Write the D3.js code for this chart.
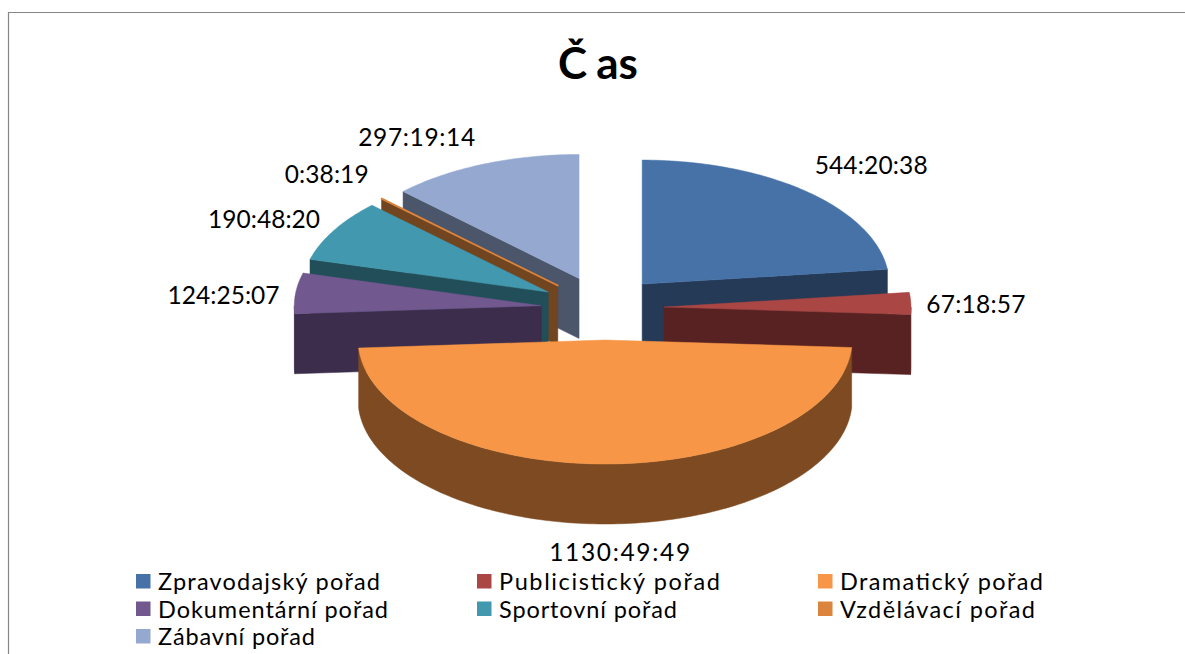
<!DOCTYPE html>
<html lang="cs">
<head>
<meta charset="utf-8">
<script src="https://cdn.jsdelivr.net/npm/d3@7"></script>
<style>
html,body{margin:0;padding:0;background:#fff;}
svg{display:block;}
text{font-family:Lato,"Open Sans",sans-serif;fill:#000;}
</style>
</head>
<body>
<div id="chart"></div>
<script>
const categories = ["Zpravodajský pořad","Publicistický pořad","Dramatický pořad","Dokumentární pořad","Sportovní pořad","Vzdělávací pořad","Zábavní pořad"];
const durationLabels = ["544:20:38","67:18:57","1130:49:49","124:25:07","190:48:20","0:38:19","297:19:14"];
const hoursValues = [544.344,67.316,1130.830,124.419,190.806,0.639,297.321];
const topColors = ["#4672A8","#AA4644","#F79646","#71588F","#4198AF","#DB843D","#95A8D0"];
const wallColors = ["#243A56","#572221","#7D4A21","#3B2D4B","#224E5A","#70451F","#4C566B"];
const drawOrder = [6,5,4,3,0,1,2];
const legendWidths = [222,221,203,230,178,195,157];
const labelWidths = [113,99,141,112,112,84,117];
const labelOffsets = [[65,-25],[65,2],[14,29],[-72,3],[-70,-10],[-55,-24],[-67,-26]];
const nudgeX = [-1,0,3,1,0,0,1];
const nudgeY = [0,0,0,1,0,0,0];

const W = 1185, H = 654;
const svg = d3.select("#chart").append("svg").attr("width",W).attr("height",H);

// frame
svg.append("path").attr("d","M8.5,654V12.5H1185")
  .attr("fill","none").attr("stroke","#868686").attr("stroke-width",1.2);

// title
svg.append("text").attr("x",598).attr("y",79).attr("text-anchor","middle")
  .attr("font-size",44).attr("font-weight",700)
  .attr("dx","0 9 0").text("Čas");

// pie geometry
const cx = 602, cy = 308, rx = 247, ry = 124, depth = 60, explodeX = 62, explodeY = 32;
const arcs = d3.pie().sort(null).value(d=>d)(hoursValues);
const pts = arcs.map((a,i)=>{
  const m = (a.startAngle+a.endAngle)/2;
  return {i, a, x: cx + explodeX*Math.sin(m) + nudgeX[i], y: cy - explodeY*Math.cos(m) + nudgeY[i]};
});
const pathLine = d3.line();
const rim = (p,t)=>[p.x+rx*Math.sin(t), p.y-ry*Math.cos(t)];
const sampleAngles = (a0,a1)=>{
  const n = Math.max(2, Math.ceil((a1-a0)/0.02));
  return d3.range(n+1).map(k=>a0+(a1-a0)*k/n);
};

const g = svg.append("g");
drawOrder.forEach(i=>{
  const p = pts[i], a0 = p.a.startAngle, a1 = p.a.endAngle;
  const apex = [p.x,p.y];
  const wall = wallColors[i];
  const addWall = d => g.append("path").attr("d",d).attr("fill",wall).attr("stroke",wall).attr("stroke-width",.5);

  // radial walls: the wall facing the viewer
  const radial = t=>{
    const r = rim(p,t);
    return pathLine([apex,r,[r[0],r[1]+depth],[p.x,p.y+depth]])+"Z";
  };
  if (Math.sin(a0) < 0) addWall(radial(a0));
  if (Math.sin(a1) > 0) addWall(radial(a1));

  // outer rim wall: front half only
  const f0 = Math.max(a0,Math.PI/2), f1 = Math.min(a1,3*Math.PI/2);
  if (f1 > f0) {
    const top = sampleAngles(f0,f1).map(t=>rim(p,t));
    const bot = top.map(q=>[q[0],q[1]+depth]).reverse();
    addWall(pathLine(top.concat(bot))+"Z");
  }

  // top face
  const face = [apex].concat(sampleAngles(a0,a1).map(t=>rim(p,t)));
  g.append("path").attr("d",pathLine(face)+"Z").attr("fill",topColors[i])
    .attr("stroke",topColors[i]).attr("stroke-width",i===5?1.6:.5).attr("stroke-linejoin","round");
});

// data labels
pts.forEach(p=>{
  const m = (p.a.startAngle+p.a.endAngle)/2;
  const r = rim(p,m);
  const front = Math.cos(m) < -0.9 ? depth : 0;
  const w = labelWidths[p.i];
  svg.append("text")
    .attr("x",r[0]+labelOffsets[p.i][0]-w/2).attr("y",r[1]+front+labelOffsets[p.i][1]+8)
    .attr("font-size",24.5).attr("textLength",w).attr("lengthAdjust","spacing")
    .text(durationLabels[p.i]);
});

// legend
const legendX = d3.scalePoint().domain([0,1,2]).range([136,818]);
const legendY = d3.scalePoint().domain([0,1,2]).range([574,629]);
categories.forEach((c,i)=>{
  const col = i%3, row = Math.floor(i/3);
  svg.append("rect").attr("x",legendX(col)).attr("y",legendY(row)).attr("width",14.5).attr("height",14.5).attr("fill",topColors[i]);
  svg.append("text").attr("x",legendX(col)+22).attr("y",legendY(row)+16)
    .attr("font-size",23.5).attr("textLength",legendWidths[i]).attr("lengthAdjust","spacing").text(c);
});
</script>
</body>
</html>
